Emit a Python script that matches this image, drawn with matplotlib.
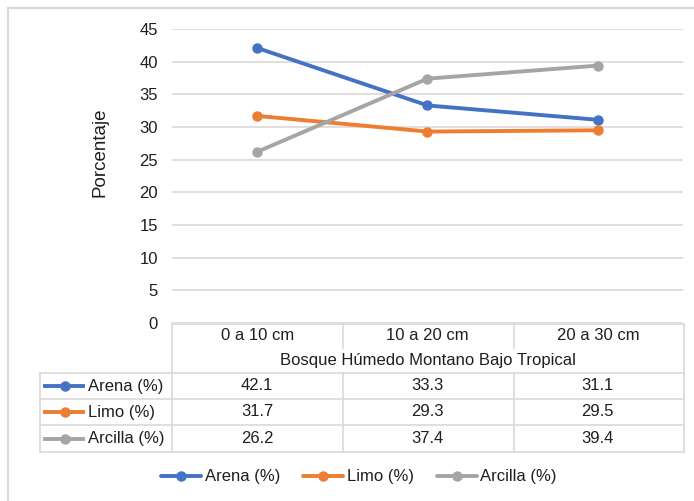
import matplotlib.pyplot as plt
from matplotlib.lines import Line2D
from matplotlib.transforms import blended_transform_factory

plt.rcParams['font.family'] = ['Liberation Sans', 'DejaVu Sans']

# datos por profundidad
categorias = ['0 a 10 cm', '10 a 20 cm', '20 a 30 cm']
grupo = 'Bosque Húmedo Montano Bajo Tropical'
series = ['Arena (%)', 'Limo (%)', 'Arcilla (%)']
arena = [42.1, 33.3, 31.1]
limo = [31.7, 29.3, 29.5]
arcilla = [26.2, 37.4, 39.4]
colores = ['#4472C4', '#ED7D31', '#A5A5A5']

W, H = 694, 501
txt = '#1f1f1f'
borde = '#d9d9d9'
fs = 12


def fx(x):
    return x / W


def fy(y):
    return 1 - y / H


fig = plt.figure(figsize=(W / 100, H / 100), dpi=100)
ax = fig.add_axes([fx(172), fy(323), fx(683) - fx(172), fy(29) - fy(323)])

x = range(len(categorias))
for nombre, vals, c in zip(series, [arena, limo, arcilla], colores):
    ax.plot(x, vals, color=c, lw=2.8, marker='o', ms=6.5, label=nombre,
            solid_capstyle='round')

ax.set_xlim(-0.5, len(categorias) - 0.5)
ax.set_ylim(0, 45)
ax.set_yticks(range(0, 46, 5))
ax.set_xticks([])
ax.grid(axis='y', color=borde, lw=1.2)
ax.set_axisbelow(True)
for s in ax.spines.values():
    s.set_visible(False)
ax.tick_params(axis='y', length=0, pad=10, labelsize=fs, labelcolor=txt)
fig.text(fx(100), fy(152), 'Porcentaje', rotation=90, ha='center', va='center',
         fontsize=13.5, color=txt)

# borde exterior del gráfico
fig.add_artist(Line2D([fx(8), fx(8)], [fy(8), fy(H)], color=borde, lw=1.5))
fig.add_artist(Line2D([fx(8), fx(W)], [fy(8), fy(8)], color=borde, lw=1.5))


def hline(x0, x1, y):
    fig.add_artist(Line2D([fx(x0), fx(x1)], [fy(y), fy(y)], color=borde, lw=1.2))


def vline(x, y0, y1):
    fig.add_artist(Line2D([fx(x), fx(x)], [fy(y0), fy(y1)], color=borde, lw=1.2))


# tabla de datos
x_bordes = [172, 343, 514, 684]
filas = [373, 399, 425, 452]
hline(172, 684, 324)
for y in filas:
    hline(40, 684, y)
vline(40, 373, 452)
vline(172, 324, 452)
vline(684, 324, 452)
for xb in x_bordes[1:-1]:
    vline(xb, 324, 348)
    vline(xb, 373, 452)

tr = blended_transform_factory(ax.transData, fig.transFigure)
for i, cat in enumerate(categorias):
    fig.text(i, fy(336), cat, transform=tr, ha='center', va='center',
             fontsize=fs, color=txt)
fig.text(1, fy(361), grupo, transform=tr, ha='center', va='center',
         fontsize=fs, color=txt)

for r, (nombre, vals, c) in enumerate(zip(series, [arena, limo, arcilla], colores)):
    yc = (filas[r] + filas[r + 1]) / 2
    fig.add_artist(Line2D([fx(45), fx(83)], [fy(yc), fy(yc)], color=c, lw=2.8))
    fig.add_artist(Line2D([fx(65)], [fy(yc)], color=c, marker='o', ms=6.5))
    fig.text(fx(88), fy(yc), nombre, ha='left', va='center', fontsize=fs, color=txt)
    for i, v in enumerate(vals):
        fig.text(i, fy(yc), f'{v:.1f}', transform=tr, ha='center', va='center',
                 fontsize=fs, color=txt)

fig.legend(loc='center', bbox_to_anchor=(fx(359), fy(477)), ncol=3, frameon=False,
           fontsize=fs, labelcolor=txt, handlelength=2.4, handletextpad=0.2,
           columnspacing=1.4)

fig.savefig('out.png', dpi=100)
